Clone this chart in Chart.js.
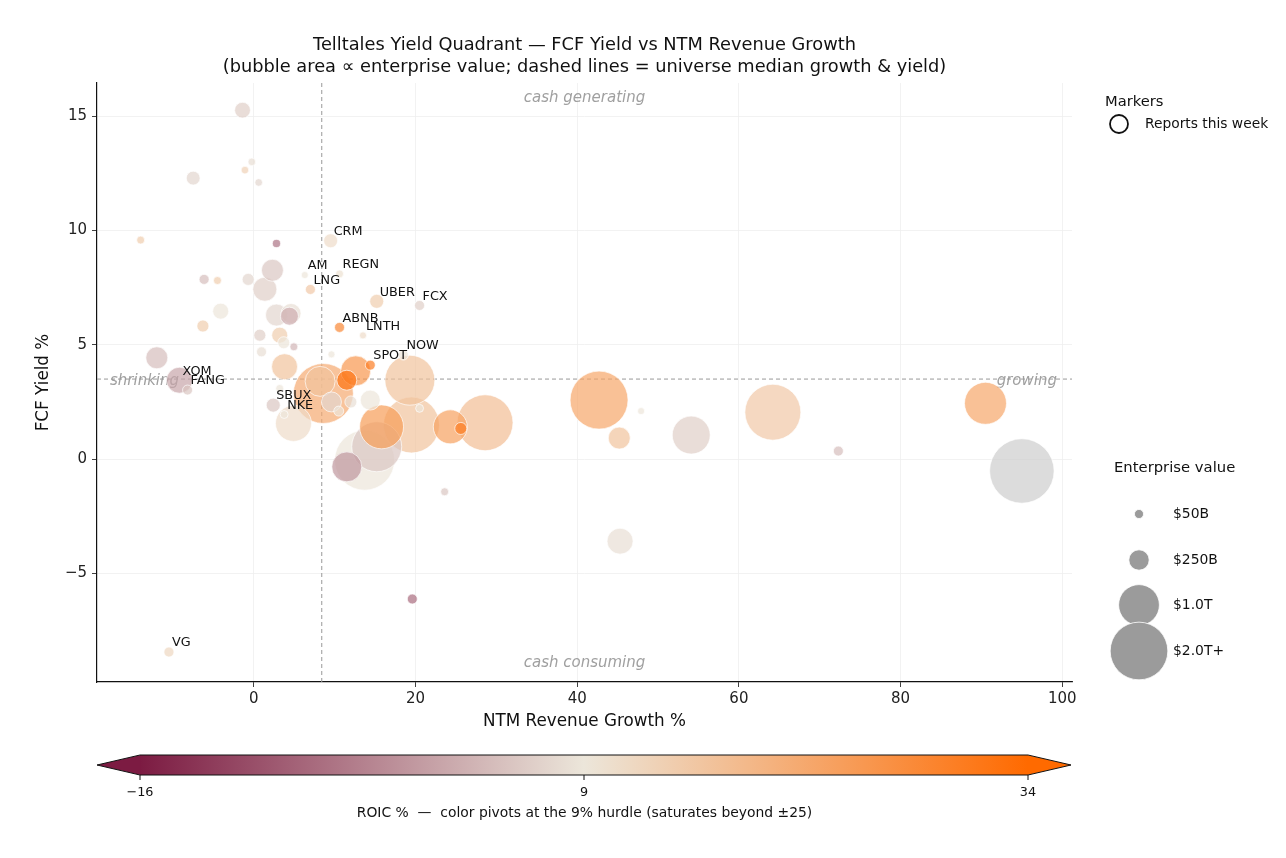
<!DOCTYPE html>
<html>
<head>
<meta charset="utf-8">
<script src="https://cdn.jsdelivr.net/npm/chart.js@4.4.1/dist/chart.umd.min.js"></script>
<style>
  html, body { margin: 0; padding: 0; background: #fff; }
  canvas { display: block; }
</style>
</head>
<body>
<canvas id="quadrant" width="1286" height="858"></canvas>
<script>
// ---- data ----
const tickers = ['', '', '', '', '', '', '', 'CRM', '', 'AM', 'REGN', '', '', '', '', 'LNG', 'UBER', 'FCX', '', '',
  '', '', '', 'ABNB', 'LNTH', '', '', '', '', '', '', '', 'NOW', 'SPOT', '', '', 'XOM', 'FANG', '', '',
  '', '', 'SBUX', 'NKE', '', '', '', '', '', '', '', '', '', '', '', '', '', 'VG', '', '',
  '', '', '', '', '', '', '', '', '', '', ''];
const growthPct = [-1.4, -0.25, -1.1, -7.5, 0.6, -14.0, 2.8, 9.5, 2.3, 6.3, 10.6, -6.15, -4.5, -0.7, 1.36, 7.0, 15.2, 20.5, -4.1, 2.8,
  4.6, 4.4, -6.3, 10.6, 13.5, 0.74, 3.2, 3.7, 4.95, 0.95, 9.6, -12.0, 18.5, 14.4, 3.8, 12.6, -9.2, -8.2, 3.2, 8.6,
  11.5, 9.6, 2.4, 3.75, 4.9, 15.8, 15.2, 11.5, 13.7, 19.3, 19.5, 24.3, 25.6, 20.5, 14.4, 28.6, 23.6, -10.5, 19.6, 45.3,
  72.3, 95.0, 90.5, 64.2, 54.1, 47.9, 45.2, 42.7, 8.2, 10.5, 12.0];
const fcfYieldPct = [15.26, 13.0, 12.64, 12.29, 12.1, 9.58, 9.43, 9.55, 8.26, 8.05, 8.1, 7.86, 7.81, 7.86, 7.43, 7.42, 6.9, 6.72, 6.47, 6.3,
  6.37, 6.25, 5.82, 5.76, 5.41, 5.42, 5.42, 5.09, 4.91, 4.69, 4.58, 4.43, 4.55, 4.11, 4.04, 3.86, 3.45, 3.02, 3.09, 2.87,
  3.45, 2.5, 2.36, 1.95, 1.56, 1.41, 0.54, -0.34, -0.05, 3.45, 1.49, 1.41, 1.34, 2.22, 2.58, 1.59, -1.43, -8.44, -6.12, -3.59,
  0.35, -0.52, 2.44, 2.05, 1.05, 2.1, 0.92, 2.58, 3.4, 2.1, 2.5];
const evBillions = [150, 35, 35, 115, 35, 38, 40, 118, 290, 30, 38, 60, 38, 87, 346, 60, 118, 60, 154, 290,
  240, 195, 87, 60, 30, 87, 154, 87, 38, 60, 30, 290, 60, 60, 406, 540, 406, 60, 38, 2160,
  240, 240, 118, 38, 778, 1160, 1500, 540, 2160, 1500, 1880, 694, 87, 38, 240, 1880, 38, 60, 60, 406,
  60, 2500, 1060, 1880, 866, 30, 290, 2020, 540, 60, 87];
const roicPct = [6, 8, 13, 7, 7, 14, -5, 11, 5, 9, 10, 4, 14, 7, 6, 15, 14, 6, 9, 7,
  8, 2, 14, 28, 11, 6, 14, 9, 3, 8, 9, 4, 9, 30, 16, 25, 1, 5, 9, 21,
  32, 7, 5, 9, 11, 24, 5, -1, 9, 16, 16, 23, 30, 9, 9, 17, 5, 12, -6, 8,
  4, null, 22, 15, 6, 9, 16, 22, 16, 9, 8];

const xTicks = [0, 20, 40, 60, 80, 100];
const yTicks = [-5, 0, 5, 10, 15];
const medianGrowth = 8.4;
const medianYield = 3.5;
const roicTicks = [-16, 9, 34];
const evLegend = [50, 250, 1000, 2000];
const evLegendLabels = ['$50B', '$250B', '$1.0T', '$2.0T+'];

// ---- helpers ----
const FONT = '"DejaVu Sans", "Liberation Sans", sans-serif';
const ROIC_MIN = -16, ROIC_MID = 9, ROIC_MAX = 34;
const CMAP = [[124, 27, 66], [236, 230, 218], [255, 106, 0]];

function bubbleRadius(ev) {
  return 0.645 * Math.sqrt(ev);
}

// two-slope norm around the 9% hurdle
function roicPos(v) {
  const c = Math.max(ROIC_MIN, Math.min(ROIC_MAX, v));
  if (c <= ROIC_MID) return 0.5 * (c - ROIC_MIN) / (ROIC_MID - ROIC_MIN);
  return 0.5 + 0.5 * (c - ROIC_MID) / (ROIC_MAX - ROIC_MID);
}

function cmapRgb(t) {
  const lo = t <= 0.5 ? CMAP[0] : CMAP[1];
  const hi = t <= 0.5 ? CMAP[1] : CMAP[2];
  const f = t <= 0.5 ? t / 0.5 : (t - 0.5) / 0.5;
  return lo.map((c, i) => Math.round(c + (hi[i] - c) * f));
}

function roicColor(v, alpha) {
  if (v === null || v === undefined) return `rgba(205,205,205,${alpha})`;
  const [r, g, b] = cmapRgb(roicPos(v));
  return `rgba(${r},${g},${b},${alpha})`;
}

function fmtTick(v) {
  return v < 0 ? '\u2212' + Math.abs(v) : String(v);
}

// biggest bubbles first so the small ones stay visible
const points = growthPct.map((g, i) => ({
  x: g, y: fcfYieldPct[i], r: bubbleRadius(evBillions[i]), roic: roicPct[i], ticker: tickers[i], ev: evBillions[i]
})).sort((a, b) => b.ev - a.ev);

// ---- extra drawing: medians, quadrant words, labels, legends, colorbar ----
const overlay = {
  id: 'overlay',
  beforeDatasetsDraw(chart) {
    const { ctx, chartArea: a, scales: { x, y } } = chart;
    ctx.save();
    ctx.font = `italic 15px ${FONT}`;
    ctx.fillStyle = '#a0a0a0';
    ctx.textBaseline = 'middle';
    ctx.textAlign = 'center';
    const cx = (a.left + a.right) / 2;
    ctx.fillText('cash generating', cx, a.top + 15);
    ctx.fillText('cash consuming', cx, a.bottom - 19);
    const my = y.getPixelForValue(medianYield);
    ctx.textAlign = 'left';
    ctx.fillText('shrinking', a.left + 13, my + 2);
    ctx.textAlign = 'right';
    ctx.fillText('growing', a.right - 15, my + 2);

    // median dashed lines
    const mx = x.getPixelForValue(medianGrowth);
    ctx.strokeStyle = '#999';
    ctx.lineWidth = 1;
    ctx.setLineDash([4, 3]);
    ctx.beginPath();
    ctx.moveTo(mx, a.top); ctx.lineTo(mx, a.bottom);
    ctx.moveTo(a.left, my); ctx.lineTo(a.right, my);
    ctx.stroke();
    ctx.restore();
  },
  afterDatasetsDraw(chart) {
    const { ctx, scales: { x, y } } = chart;
    ctx.save();
    ctx.font = `12.8px ${FONT}`;
    ctx.fillStyle = '#111';
    ctx.textAlign = 'left';
    ctx.textBaseline = 'middle';
    points.forEach(p => {
      if (!p.ticker) return;
      ctx.fillText(p.ticker, x.getPixelForValue(p.x) + 3, y.getPixelForValue(p.y) - 9);
    });
    ctx.restore();
  },
  afterDraw(chart) {
    const { ctx, chartArea: a } = chart;
    const cx = (a.left + a.right) / 2;
    ctx.save();
    ctx.fillStyle = '#111';
    ctx.textBaseline = 'middle';

    // title
    ctx.textAlign = 'center';
    ctx.font = `17.8px ${FONT}`;
    ctx.fillText('Telltales Yield Quadrant \u2014 FCF Yield vs NTM Revenue Growth', cx, 45);
    ctx.fillText('(bubble area \u221d enterprise value; dashed lines = universe median growth & yield)', cx, 67);

    // axis titles
    ctx.font = `16.8px ${FONT}`;
    ctx.fillText('NTM Revenue Growth %', cx, 722);
    ctx.save();
    ctx.translate(44, (a.top + a.bottom) / 2);
    ctx.rotate(-Math.PI / 2);
    ctx.fillText('FCF Yield %', 0, 0);
    ctx.restore();

    // markers legend
    ctx.textAlign = 'left';
    ctx.font = `14.7px ${FONT}`;
    ctx.fillText('Markers', 1105, 102);
    ctx.font = `13.8px ${FONT}`;
    ctx.fillText('Reports this week', 1145, 124);
    ctx.beginPath();
    ctx.arc(1119, 124, 9, 0, Math.PI * 2);
    ctx.strokeStyle = '#111';
    ctx.lineWidth = 1.8;
    ctx.stroke();

    // size legend
    ctx.font = `14.8px ${FONT}`;
    ctx.fillText('Enterprise value', 1114, 468);
    ctx.font = `13.9px ${FONT}`;
    const legY = [514, 560, 605, 651];
    evLegend.forEach((ev, i) => {
      ctx.beginPath();
      ctx.arc(1139, legY[i], bubbleRadius(ev), 0, Math.PI * 2);
      ctx.fillStyle = '#9b9b9b';
      ctx.fill();
      ctx.strokeStyle = '#fff';
      ctx.lineWidth = 0.8;
      ctx.stroke();
      ctx.fillStyle = '#111';
      ctx.fillText(evLegendLabels[i], 1173, legY[i]);
    });

    // colorbar
    const cbL = 140, cbR = 1028, cbT = 755, cbB = 775, ext = 43;
    const mid = (cbT + cbB) / 2;
    const grad = ctx.createLinearGradient(cbL, 0, cbR, 0);
    grad.addColorStop(0, `rgb(${CMAP[0].join(',')})`);
    grad.addColorStop(0.5, `rgb(${CMAP[1].join(',')})`);
    grad.addColorStop(1, `rgb(${CMAP[2].join(',')})`);
    ctx.fillStyle = grad;
    ctx.fillRect(cbL, cbT, cbR - cbL, cbB - cbT);
    ctx.fillStyle = `rgb(${CMAP[0].join(',')})`;
    ctx.beginPath();
    ctx.moveTo(cbL + 0.5, cbT); ctx.lineTo(cbL - ext, mid); ctx.lineTo(cbL + 0.5, cbB); ctx.closePath();
    ctx.fill();
    ctx.fillStyle = `rgb(${CMAP[2].join(',')})`;
    ctx.beginPath();
    ctx.moveTo(cbR - 0.5, cbT); ctx.lineTo(cbR + ext, mid); ctx.lineTo(cbR - 0.5, cbB); ctx.closePath();
    ctx.fill();
    ctx.beginPath();
    ctx.moveTo(cbL, cbT); ctx.lineTo(cbR, cbT); ctx.lineTo(cbR + ext, mid); ctx.lineTo(cbR, cbB);
    ctx.lineTo(cbL, cbB); ctx.lineTo(cbL - ext, mid); ctx.closePath();
    ctx.strokeStyle = '#111';
    ctx.lineWidth = 1;
    ctx.stroke();

    ctx.textAlign = 'center';
    ctx.font = `12.8px ${FONT}`;
    ctx.fillStyle = '#111';
    roicTicks.forEach(v => {
      const px = cbL + roicPos(v) * (cbR - cbL);
      ctx.beginPath();
      ctx.moveTo(px, cbB); ctx.lineTo(px, cbB + 5);
      ctx.stroke();
      ctx.fillText(fmtTick(v), px, 793);
    });
    ctx.font = `13.9px ${FONT}`;
    ctx.fillText('ROIC %  \u2014  color pivots at the 9% hurdle (saturates beyond \u00b125)', cx, 813);
    ctx.restore();
  }
};

const tickFont = { family: FONT, size: 15 };

new Chart(document.getElementById('quadrant'), {
  type: 'bubble',
  data: {
    datasets: [{
      data: points,
      backgroundColor: c => roicColor(c.raw ? c.raw.roic : null, 0.7),
      borderColor: 'rgba(255,255,255,0.85)',
      borderWidth: 0.8
    }]
  },
  options: {
    responsive: false,
    animation: false,
    devicePixelRatio: 1,
    layout: { padding: { left: 0, right: 214, top: 83, bottom: 0 } },
    plugins: { legend: { display: false }, tooltip: { enabled: false } },
    scales: {
      x: {
        type: 'linear',
        min: -19.4,
        max: 101.2,
        afterFit: s => { s.height = 176; },
        afterBuildTicks: s => { s.ticks = xTicks.map(v => ({ value: v })); },
        ticks: { callback: v => fmtTick(v), font: tickFont, color: '#222', padding: 3, maxRotation: 0 },
        grid: { color: '#efefef', lineWidth: 0.8, tickColor: '#111', tickLength: 5 },
        border: { color: '#111', width: 1.2 }
      },
      y: {
        type: 'linear',
        min: -9.75,
        max: 16.45,
        afterFit: s => { s.width = 97; },
        afterBuildTicks: s => { s.ticks = yTicks.map(v => ({ value: v })); },
        ticks: { callback: v => fmtTick(v), font: tickFont, color: '#222', padding: 5 },
        grid: { color: '#efefef', lineWidth: 0.8, tickColor: '#111', tickLength: 5 },
        border: { color: '#111', width: 1.2 }
      }
    }
  },
  plugins: [overlay]
});
</script>
</body>
</html>
